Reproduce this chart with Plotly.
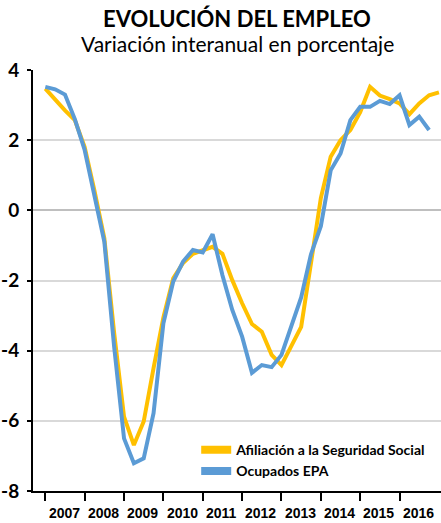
import plotly.graph_objects as go

# Quarterly data, 2007 T1 onwards
quarters_orange = [f"{y}-T{q}" for y in range(2007, 2017) for q in range(1, 5)] + ["2017-T1"]
quarters_blue = quarters_orange[:40]

afiliacion = [3.47, 3.15, 2.85, 2.57, 1.80, 0.55, -0.80, -3.50, -5.88, -6.69,
              -6.02, -4.50, -3.05, -1.94, -1.50, -1.24, -1.15, -1.04, -1.24, -1.99,
              -2.65, -3.24, -3.46, -4.12, -4.41, -3.89, -3.32, -1.50, 0.35, 1.53,
              2.00, 2.29, 2.80, 3.52, 3.27, 3.17, 3.05, 2.74, 3.05, 3.28,
              3.36]
ocupados_epa = [3.52, 3.45, 3.30, 2.60, 1.72, 0.45, -0.90, -3.90, -6.50, -7.21,
                -7.07, -5.78, -3.22, -2.03, -1.46, -1.13, -1.20, -0.68, -1.85, -2.84,
                -3.60, -4.63, -4.41, -4.47, -4.12, -3.30, -2.48, -1.25, -0.45, 1.14,
                1.62, 2.57, 2.95, 2.95, 3.12, 3.03, 3.28, 2.43, 2.67, 2.29]

years = ["2007", "2008", "2009", "2010", "2011", "2012", "2013", "2014", "2015", "2016"]
y_ticks = [-8, -6, -4, -2, 0, 2, 4]
y_tick_text = ["-8", "-6", "-4", "-2", "0", "2", "4"]

name_orange = "Afiliación a la Seguridad Social"
name_blue = "Ocupados EPA"
c_orange = "#FFC000"
c_blue = "#5B9BD5"

x_orange = list(range(len(afiliacion)))
x_blue = list(range(len(ocupados_epa)))
year_start_idx = [4 * k for k in range(len(years))]
year_mid_idx = [4 * k + 1.9 for k in range(len(years))]

fig = go.Figure()
fig.add_trace(go.Scatter(x=x_orange, y=afiliacion, mode="lines", name=name_orange,
                         line=dict(color=c_orange, width=4), showlegend=False,
                         text=quarters_orange, hovertemplate="%{text}: %{y}<extra></extra>"))
fig.add_trace(go.Scatter(x=x_blue, y=ocupados_epa, mode="lines", name=name_blue,
                         line=dict(color=c_blue, width=4), showlegend=False,
                         text=quarters_blue, hovertemplate="%{text}: %{y}<extra></extra>"))
# legend entries
fig.add_trace(go.Scatter(x=[None], y=[None], mode="lines", name=name_orange,
                         line=dict(color=c_orange, width=8)))
fig.add_trace(go.Scatter(x=[None], y=[None], mode="lines", name=name_blue,
                         line=dict(color=c_blue, width=8)))

font_main = "Lato, 'Open Sans', sans-serif"
font_years = "'Liberation Sans', Arial, sans-serif"

annotations = [
    dict(text="<b>EVOLUCIÓN DEL EMPLEO</b>", xref="paper", yref="paper", x=0.5, y=1 + 52 / 421,
         xanchor="center", yanchor="middle", showarrow=False,
         font=dict(family=font_main, size=22, color="black")),
    dict(text="Variación interanual en porcentaje", xref="paper", yref="paper", x=0.5, y=1 + 27 / 421,
         xanchor="center", yanchor="middle", showarrow=False,
         font=dict(family=font_main, size=21, color="black")),
]
for yr, xm in zip(years, year_mid_idx):
    annotations.append(dict(text="<b>" + yr + "</b>", x=xm, y=-8, xref="x", yref="y",
                            yshift=-22, xanchor="center", yanchor="middle", showarrow=False,
                            font=dict(family=font_years, size=14, color="black")))

fig.update_layout(
    width=441, height=523,
    margin=dict(l=33, r=0, t=70, b=32),
    paper_bgcolor="white", plot_bgcolor="white",
    showlegend=True,
    legend=dict(x=0.40, y=0.135, xanchor="left", yanchor="top",
                bgcolor="rgba(0,0,0,0)", tracegroupgap=0,
                font=dict(family=font_main, size=14, color="black", weight="bold")),
    annotations=annotations,
)
fig.update_xaxes(range=[-1.25, 40.21], tickvals=year_start_idx, showticklabels=False,
                 ticks="outside", ticklen=8, tickwidth=1.5, tickcolor="black",
                 showline=True, linecolor="black", linewidth=2,
                 showgrid=False, zeroline=False)
fig.update_yaxes(range=[-8, 4], tickvals=y_ticks, ticktext=y_tick_text,
                 ticks="outside", ticklen=4, tickwidth=1.5, tickcolor="black",
                 showline=True, linecolor="black", linewidth=2,
                 showgrid=True, gridcolor="#d9d9d9", gridwidth=1.5,
                 zeroline=True, zerolinecolor="#bfbfbf", zerolinewidth=2,
                 tickfont=dict(family=font_main, size=19, color="black", weight="bold"),
                 ticklabelstandoff=4)

fig.write_html("out.html", config={"displayModeBar": False},
               post_script="document.body.style.margin='0';")
